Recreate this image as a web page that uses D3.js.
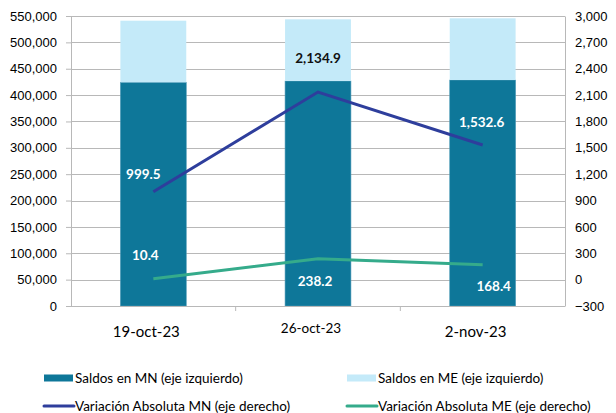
<!DOCTYPE html>
<html>
<head>
<meta charset="utf-8">
<script src="https://cdn.jsdelivr.net/npm/d3@7"></script>
<style>
  body { margin: 0; background: #fff; }
  svg { display: block; font-family: Lato, "Open Sans", sans-serif; }
</style>
</head>
<body>
<div id="chart"></div>
<script>
// data
const categories = ["19-oct-23", "26-oct-23", "2-nov-23"];
const saldosMN = [424300, 426700, 428600];
const saldosME = [116800, 117000, 117000];
const variacionMN = [999.5, 2134.9, 1532.6];
const variacionME = [10.4, 238.2, 168.4];
const leftTicks = d3.range(0, 550001, 50000);
const rightTicks = d3.range(-300, 3001, 300);

// label placement (pixels relative to the point)
const mnLabelOffset = [[-10, -13], [0, -29], [-1, -18]];
const meLabelOffset = [[-8, -19], [-3, 27], [11, 26]];
const mnLabelColor = ["#fff", "#111", "#fff"];

const W = 616, H = 413;
const plot = { left: 71, right: 565, top: 16, bottom: 306 };

const svg = d3.select("#chart").append("svg")
  .attr("width", W)
  .attr("height", H);

const x = d3.scaleBand()
  .domain(categories)
  .range([plot.left, plot.right]);

const yL = d3.scaleLinear().domain([0, 550000]).range([plot.bottom, plot.top]);
const yR = d3.scaleLinear().domain([-300, 3000]).range([plot.bottom, plot.top]);

const barW = x.bandwidth() * 0.4;
const cx = d => x(d) + x.bandwidth() / 2;

// gridlines
svg.append("g")
  .selectAll("line")
  .data(leftTicks)
  .join("line")
  .attr("x1", plot.left).attr("x2", plot.right)
  .attr("y1", d => Math.round(yL(d)) + 0.5)
  .attr("y2", d => Math.round(yL(d)) + 0.5)
  .attr("stroke", "#b8b8b8")
  .attr("stroke-width", 1.2);

// left axis
const gL = svg.append("g")
  .attr("transform", `translate(${plot.left},0)`)
  .call(d3.axisLeft(yL).tickValues(leftTicks).tickSize(5).tickPadding(9).tickFormat(d3.format(",")));
gL.select(".domain").attr("stroke", "#b8b8b8");
gL.selectAll(".tick line").attr("stroke", "#b8b8b8");
gL.selectAll("text").attr("font-size", 13).attr("fill", "#000");

// right axis
const gR = svg.append("g")
  .attr("transform", `translate(${plot.right},0)`)
  .call(d3.axisRight(yR).tickValues(rightTicks).tickSize(0).tickPadding(10).tickFormat(d3.format(",")));
gR.select(".domain").attr("stroke", "#b8b8b8");
gR.selectAll("text").attr("font-size", 13).attr("fill", "#000");

// bars
svg.append("g")
  .selectAll("rect")
  .data(categories)
  .join("rect")
  .attr("x", d => cx(d) - barW / 2)
  .attr("width", barW)
  .attr("y", (d, i) => yL(saldosMN[i]))
  .attr("height", (d, i) => yL(0) - yL(saldosMN[i]))
  .attr("fill", "#0e7799")
  .attr("stroke", "#4f9bb8")
  .attr("stroke-width", 0.6);

svg.append("g")
  .selectAll("rect")
  .data(categories)
  .join("rect")
  .attr("x", d => cx(d) - barW / 2)
  .attr("width", barW)
  .attr("y", (d, i) => yL(saldosMN[i] + saldosME[i]))
  .attr("height", (d, i) => yL(saldosMN[i]) - yL(saldosMN[i] + saldosME[i]))
  .attr("fill", "#c4eaf9");

// bottom axis line and category ticks
svg.append("line")
  .attr("x1", plot.left).attr("x2", plot.right)
  .attr("y1", plot.bottom + 0.5).attr("y2", plot.bottom + 0.5)
  .attr("stroke", "#b8b8b8").attr("stroke-width", 1.2);

svg.append("g")
  .selectAll("line")
  .data(categories.slice(1))
  .join("line")
  .attr("x1", d => x(d)).attr("x2", d => x(d))
  .attr("y1", plot.bottom).attr("y2", plot.bottom + 5)
  .attr("stroke", "#b8b8b8");

svg.append("g")
  .selectAll("text")
  .data(categories)
  .join("text")
  .attr("x", d => cx(d) - 7)
  .attr("y", (d, i) => i === 1 ? 333 : 337)
  .attr("text-anchor", "middle")
  .attr("font-size", (d, i) => i === 1 ? 13.5 : 15)
  .attr("fill", "#000")
  .text(d => d);

// lines
const lineGen = d3.line().x((d, i) => cx(categories[i])).y(d => yR(d));
svg.append("path")
  .datum(variacionMN)
  .attr("d", lineGen)
  .attr("fill", "none")
  .attr("stroke", "#2e3e9c")
  .attr("stroke-width", 3);

svg.append("path")
  .datum(variacionME)
  .attr("d", lineGen)
  .attr("fill", "none")
  .attr("stroke", "#35ab8b")
  .attr("stroke-width", 3);

// data labels
const fmt = d3.format(",.1f");
svg.append("g")
  .selectAll("text")
  .data(variacionMN)
  .join("text")
  .attr("x", (d, i) => cx(categories[i]) + mnLabelOffset[i][0])
  .attr("y", (d, i) => yR(d) + mnLabelOffset[i][1])
  .attr("text-anchor", "middle")
  .attr("font-size", 13.5)
  .attr("font-weight", "bold")
  .attr("fill", (d, i) => mnLabelColor[i])
  .text(d => fmt(d));

svg.append("g")
  .selectAll("text")
  .data(variacionME)
  .join("text")
  .attr("x", (d, i) => cx(categories[i]) + meLabelOffset[i][0])
  .attr("y", (d, i) => yR(d) + meLabelOffset[i][1])
  .attr("text-anchor", "middle")
  .attr("font-size", 13.5)
  .attr("font-weight", "bold")
  .attr("fill", "#fff")
  .text(d => fmt(d));

// legend
const legend = [
  { label: "Saldos en MN (eje izquierdo)", color: "#0e7799", type: "rect", x: 44, y: 378 },
  { label: "Saldos en ME (eje izquierdo)", color: "#c4eaf9", type: "rect", x: 347, y: 378 },
  { label: "Variación Absoluta MN (eje derecho)", color: "#2e3e9c", type: "line", x: 44, y: 406 },
  { label: "Variación Absoluta ME (eje derecho)", color: "#35ab8b", type: "line", x: 347, y: 406 }
];

const lg = svg.append("g")
  .selectAll("g")
  .data(legend)
  .join("g")
  .attr("transform", d => `translate(${d.x},${d.y})`);

lg.filter(d => d.type === "rect")
  .append("rect")
  .attr("x", 0).attr("y", -3.5)
  .attr("width", 29).attr("height", 7)
  .attr("fill", d => d.color);

lg.filter(d => d.type === "line")
  .append("line")
  .attr("x1", 0).attr("x2", 30)
  .attr("stroke", d => d.color)
  .attr("stroke-width", 3)
  .attr("stroke-linecap", "round");

lg.append("text")
  .attr("x", 31)
  .attr("y", 5)
  .attr("font-size", 13.5)
  .attr("fill", "#000")
  .text(d => d.label);
</script>
</body>
</html>
